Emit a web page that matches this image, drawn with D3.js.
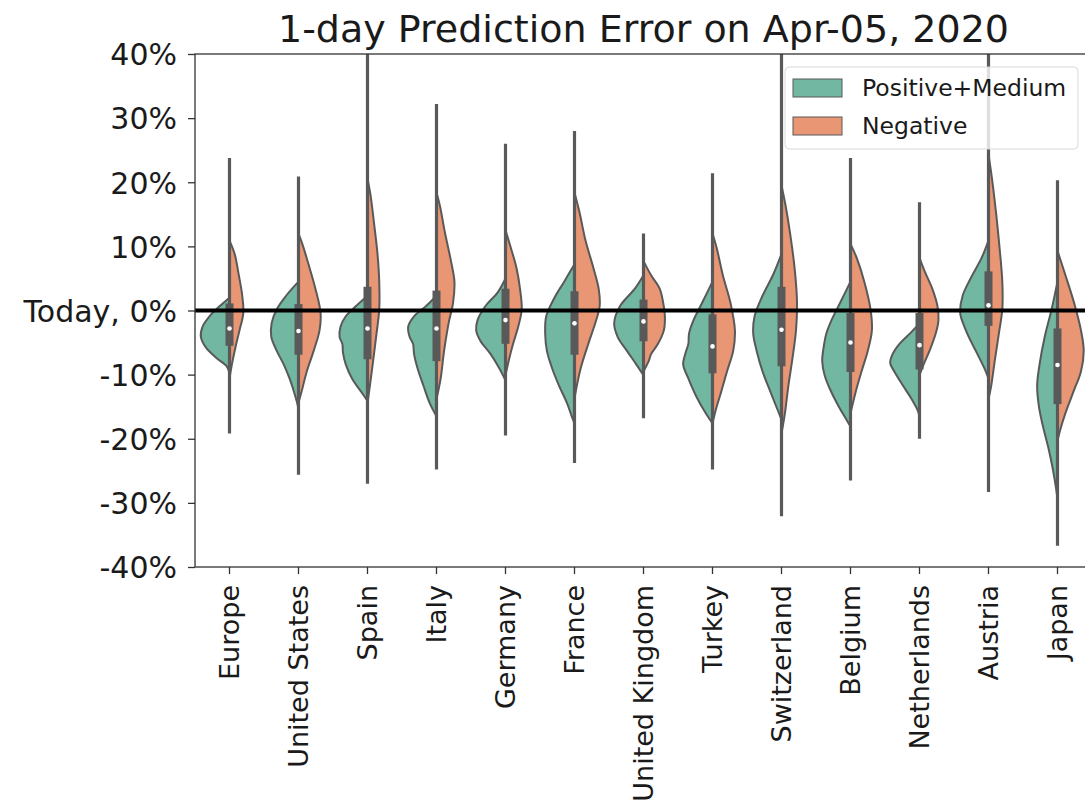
<!DOCTYPE html>
<html>
<head>
<meta charset="utf-8">
<script src="https://cdn.jsdelivr.net/npm/d3@7"></script>
<style>
  body { margin: 0; background: #fff; }
  svg { display: block; font-family: "DejaVu Sans", sans-serif; }
</style>
</head>
<body>
<div id="chart"></div>
<script>
// Split violin chart: 1-day prediction error by country, two sentiment groups

const countries = ["Europe", "United States", "Spain", "Italy", "Germany", "France",
  "United Kingdom", "Turkey", "Switzerland", "Belgium", "Netherlands", "Austria", "Japan"];

const groups = ["Positive+Medium", "Negative"];
const groupColors = ["#72b7a1", "#e99675"];

// inner box values (percent)
const whiskerHigh = [23.8, 20.9, 40.5, 32.2, 26.0, 28.0, 12.0, 21.4, 40.5, 23.8, 16.9, 40.5, 20.3];
const whiskerLow  = [-19.2, -25.6, -27.0, -24.8, -19.5, -23.8, -16.8, -24.8, -32.1, -26.5, -20.0, -28.3, -36.7];
const q3Values    = [1.1, 1.0, 3.7, 3.1, 3.4, 3.0, 1.7, -0.6, 3.7, -0.4, -0.4, 6.1, -2.8];
const q1Values    = [-5.5, -6.9, -7.6, -7.9, -5.2, -6.9, -4.8, -9.8, -8.7, -9.6, -9.2, -2.4, -14.6];
const medians     = [-2.8, -3.2, -2.8, -2.8, -1.5, -2.0, -1.7, -5.6, -3.0, -5.0, -5.4, 0.8, -8.5];

// density profiles: [percent, relative half-width]
const positiveDensity = [
  [[2.0, 0], [0.7, 0.28], [-0.9, 0.58], [-2.5, 0.78], [-4.1, 0.83], [-5.8, 0.68], [-7.4, 0.38], [-8.7, 0.08], [-9.8, 0]],
  [[4.5, 0], [2.3, 0.36], [0.2, 0.63], [-2.0, 0.78], [-4.1, 0.79], [-6.3, 0.63], [-8.4, 0.43], [-10.6, 0.26], [-12.7, 0.13], [-14.4, 0.04], [-15.4, 0]],
  [[2.3, 0], [0.7, 0.33], [-0.9, 0.63], [-2.5, 0.78], [-4.1, 0.81], [-5.2, 0.73], [-6.6, 0.71], [-8.4, 0.63], [-10.6, 0.45], [-12.7, 0.18], [-14.1, 0]],
  [[2.3, 0], [0.7, 0.30], [-0.9, 0.65], [-2.5, 0.82], [-4.1, 0.78], [-5.2, 0.68], [-6.8, 0.65], [-9.0, 0.55], [-11.7, 0.38], [-14.4, 0.20], [-16.5, 0]],
  [[5.0, 0], [2.8, 0.23], [0.7, 0.58], [-1.5, 0.81], [-3.1, 0.85], [-4.7, 0.73], [-6.8, 0.43], [-9.0, 0.18], [-10.9, 0]],
  [[7.2, 0], [4.5, 0.30], [1.8, 0.60], [-0.9, 0.82], [-3.6, 0.85], [-6.3, 0.80], [-9.0, 0.65], [-11.7, 0.45], [-14.4, 0.22], [-16.5, 0.08], [-17.6, 0]],
  [[5.5, 0], [3.4, 0.25], [0.7, 0.68], [-2.0, 0.85], [-4.1, 0.75], [-6.3, 0.48], [-8.4, 0.21], [-10.1, 0]],
  [[4.5, 0], [1.2, 0.30], [-1.5, 0.55], [-3.6, 0.68], [-5.2, 0.70], [-6.6, 0.78], [-8.4, 0.85], [-10.6, 0.70], [-13.3, 0.48], [-16.0, 0.20], [-17.6, 0]],
  [[8.8, 0], [5.5, 0.25], [2.3, 0.55], [-0.9, 0.78], [-3.6, 0.82], [-6.3, 0.72], [-9.5, 0.55], [-12.7, 0.32], [-15.4, 0.12], [-17.0, 0]],
  [[4.5, 0], [1.2, 0.30], [-1.5, 0.55], [-3.6, 0.70], [-5.8, 0.78], [-7.9, 0.82], [-10.1, 0.75], [-12.2, 0.60], [-14.9, 0.35], [-17.0, 0.12], [-18.1, 0]],
  [[-2.0, 0], [-3.6, 0.28], [-5.2, 0.58], [-6.8, 0.78], [-8.2, 0.85], [-9.5, 0.73], [-11.7, 0.48], [-13.8, 0.23], [-15.6, 0.05], [-16.5, 0]],
  [[10.9, 0], [8.2, 0.20], [5.0, 0.52], [2.3, 0.75], [-0.4, 0.82], [-2.5, 0.70], [-4.7, 0.52], [-6.8, 0.32], [-9.0, 0.12], [-10.6, 0]],
  [[4.5, 0], [0.2, 0.17], [-4.1, 0.37], [-8.4, 0.52], [-11.7, 0.59], [-14.9, 0.54], [-18.1, 0.42], [-21.3, 0.27], [-24.6, 0.14], [-27.8, 0.04], [-29.4, 0]]
];

const negativeDensity = [
  [[10.9, 0], [8.8, 0.15], [5.5, 0.27], [2.3, 0.37], [-0.4, 0.40], [-3.1, 0.29], [-5.8, 0.17], [-8.4, 0.07], [-10.6, 0]],
  [[12.0, 0], [10.4, 0.11], [7.2, 0.29], [3.4, 0.49], [-0.4, 0.64], [-3.1, 0.61], [-6.3, 0.44], [-9.5, 0.24], [-12.2, 0.11], [-14.4, 0]],
  [[20.6, 0], [17.9, 0.09], [13.6, 0.19], [8.8, 0.29], [4.5, 0.34], [0.2, 0.34], [-4.1, 0.25], [-8.4, 0.15], [-11.7, 0.07], [-14.4, 0]],
  [[18.4, 0], [16.3, 0.10], [12.0, 0.25], [7.7, 0.42], [4.5, 0.52], [1.2, 0.48], [-2.0, 0.35], [-6.3, 0.22], [-10.6, 0.12], [-13.8, 0]],
  [[12.5, 0], [10.4, 0.12], [6.6, 0.32], [3.4, 0.42], [0.2, 0.47], [-2.5, 0.37], [-5.2, 0.22], [-7.9, 0.09], [-10.1, 0]],
  [[18.4, 0], [15.2, 0.15], [10.9, 0.32], [6.6, 0.55], [3.4, 0.70], [0.7, 0.73], [-2.0, 0.60], [-5.2, 0.40], [-9.0, 0.18], [-12.2, 0.05], [-13.8, 0]],
  [[7.7, 0], [5.5, 0.22], [3.4, 0.47], [1.2, 0.57], [-0.9, 0.62], [-3.1, 0.59], [-5.2, 0.42], [-6.8, 0.22], [-7.9, 0.15], [-9.5, 0]],
  [[12.0, 0], [9.8, 0.12], [5.5, 0.30], [1.2, 0.52], [-3.1, 0.65], [-6.3, 0.60], [-9.5, 0.42], [-12.7, 0.25], [-15.4, 0.10], [-17.6, 0]],
  [[19.5, 0], [16.3, 0.12], [12.0, 0.25], [6.6, 0.38], [1.2, 0.45], [-3.1, 0.42], [-7.4, 0.32], [-11.7, 0.20], [-16.0, 0.10], [-19.2, 0]],
  [[10.4, 0], [8.2, 0.18], [4.5, 0.40], [0.2, 0.58], [-3.1, 0.62], [-6.3, 0.50], [-9.5, 0.32], [-12.7, 0.15], [-14.9, 0.05], [-16.0, 0]],
  [[8.2, 0], [6.1, 0.15], [3.4, 0.37], [0.7, 0.52], [-1.5, 0.55], [-3.6, 0.47], [-6.3, 0.29], [-8.4, 0.12], [-10.1, 0]],
  [[24.4, 0], [20.6, 0.10], [15.2, 0.22], [9.8, 0.32], [4.5, 0.40], [0.2, 0.40], [-3.6, 0.30], [-7.9, 0.18], [-11.7, 0.08], [-13.8, 0]],
  [[9.3, 0], [5.5, 0.23], [1.2, 0.48], [-3.1, 0.68], [-6.3, 0.76], [-9.5, 0.68], [-12.7, 0.46], [-16.0, 0.23], [-18.6, 0.08], [-20.3, 0]]
];

const yTicks = [-40, -30, -20, -10, 0, 10, 20, 30, 40];

const width = 1085, height = 806;
const margin = { top: 54, left: 195, bottom: 239, right: -7 };
const gray = "#595959";
const fontFamily = "'DejaVu Sans', sans-serif";

const svg = d3.select("#chart").append("svg")
  .attr("width", width)
  .attr("height", height);

const x = d3.scaleBand()
  .domain(countries)
  .range([margin.left, width - margin.right])
  .padding(0);

const y = d3.scaleLinear()
  .domain([-40, 40])
  .range([height - margin.bottom, margin.top]);

// half-width of a violin: 1 unit = half a band
const w = d3.scaleLinear().domain([0, 1]).range([0, x.bandwidth() / 2]);

const plot = svg.append("g");
svg.append("clipPath").attr("id", "clip")
  .append("rect")
  .attr("x", margin.left).attr("y", margin.top)
  .attr("width", width - margin.left).attr("height", y(-40) - margin.top);
plot.attr("clip-path", "url(#clip)");

// violins
countries.forEach((c, i) => {
  const cx = x(c) + x.bandwidth() / 2;
  const halves = [positiveDensity[i], negativeDensity[i]];
  halves.forEach((prof, g) => {
    const dir = g === 0 ? -1 : 1;
    const area = d3.area()
      .y(d => y(d[0]))
      .x0(cx)
      .x1(d => cx + dir * w(d[1]))
      .curve(d3.curveCatmullRom.alpha(0.5));
    plot.append("path")
      .attr("d", area(prof))
      .attr("fill", groupColors[g])
      .attr("stroke", gray)
      .attr("stroke-width", 2)
      .attr("stroke-linejoin", "round");
  });

  // inner box
  plot.append("line")
    .attr("x1", cx).attr("x2", cx)
    .attr("y1", y(whiskerHigh[i])).attr("y2", y(whiskerLow[i]))
    .attr("stroke", gray).attr("stroke-width", 3.2);
  plot.append("line")
    .attr("x1", cx).attr("x2", cx)
    .attr("y1", y(q3Values[i])).attr("y2", y(q1Values[i]))
    .attr("stroke", gray).attr("stroke-width", 8);
  plot.append("circle")
    .attr("cx", cx).attr("cy", y(medians[i]))
    .attr("r", 2.3)
    .attr("fill", "#fff");
});

// reference line for today
svg.append("line")
  .attr("x1", margin.left).attr("x2", width)
  .attr("y1", y(0)).attr("y2", y(0))
  .attr("stroke", "#000").attr("stroke-width", 4);

// axes
const yAxis = svg.append("g")
  .attr("transform", `translate(${margin.left},0)`)
  .call(d3.axisLeft(y).tickValues(yTicks).tickSize(7).tickPadding(11)
    .tickFormat(d => d === 0 ? "Today, 0%" : d + "%"));
yAxis.selectAll("text").style("font-size", "30px").attr("fill", "#1a1a1a").attr("dy", "0.36em");

const xAxis = svg.append("g")
  .attr("transform", `translate(0,${y(-40)})`)
  .call(d3.axisBottom(x).tickSize(7).tickPadding(0));
xAxis.selectAll("text")
  .style("font-size", "27px")
  .attr("fill", "#1a1a1a")
  .attr("text-anchor", "end")
  .attr("transform", "rotate(-90)")
  .attr("x", -18)
  .attr("y", 0)
  .attr("dy", "0.36em");

[yAxis, xAxis].forEach(a => {
  a.attr("font-family", fontFamily);
  a.select(".domain").remove();
  a.selectAll(".tick line").attr("stroke", "#333").attr("stroke-width", 1.3);
});

// frame
svg.append("rect")
  .attr("x", margin.left).attr("y", margin.top)
  .attr("width", width - margin.right - margin.left)
  .attr("height", y(-40) - margin.top)
  .attr("fill", "none")
  .attr("stroke", "#333")
  .attr("stroke-width", 1.3);

// title
svg.append("text")
  .attr("x", (margin.left + width - margin.right) / 2)
  .attr("y", 42)
  .attr("text-anchor", "middle")
  .style("font-size", "38px")
  .attr("fill", "#1a1a1a")
  .text("1-day Prediction Error on Apr-05, 2020");

// legend
const legend = svg.append("g");
legend.append("rect")
  .attr("x", 785).attr("y", 67)
  .attr("width", 293).attr("height", 82)
  .attr("rx", 4)
  .attr("fill", "#fff").attr("fill-opacity", 0.8)
  .attr("stroke", "#d9d9d9");
groups.forEach((g, i) => {
  legend.append("rect")
    .attr("x", 793).attr("y", 79 + i * 38)
    .attr("width", 49).attr("height", 18)
    .attr("fill", groupColors[i])
    .attr("stroke", gray).attr("stroke-width", 1);
  legend.append("text")
    .attr("x", 862).attr("y", 88 + i * 38)
    .attr("dy", "0.36em")
    .style("font-size", "23.5px")
    .attr("fill", "#1a1a1a")
    .text(g);
});
</script>
</body>
</html>
